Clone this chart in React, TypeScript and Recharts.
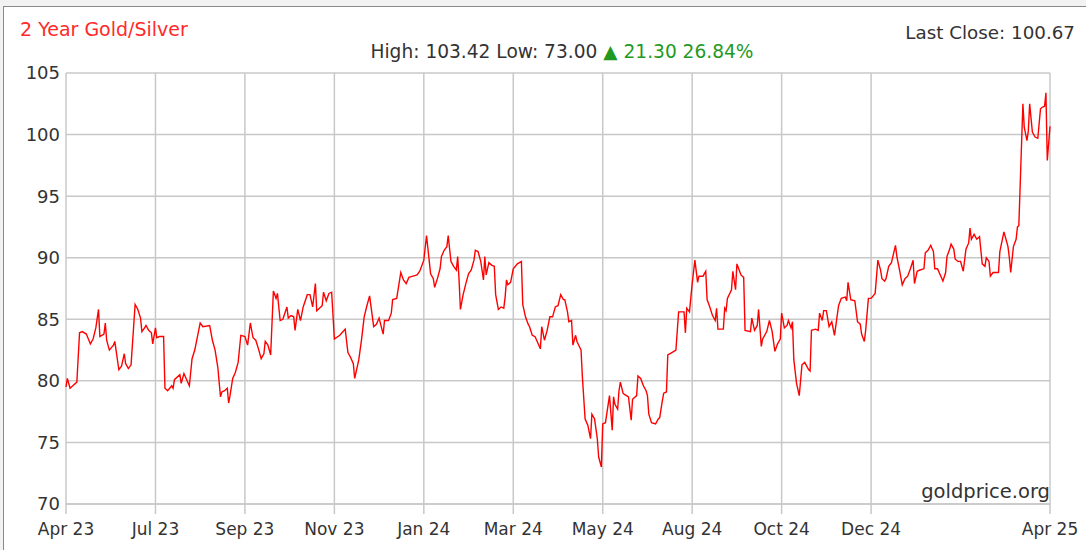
import React from 'react';
import { LineChart, Line, XAxis, YAxis, CartesianGrid } from 'recharts';

const days = [
  0, 1, 3, 5, 8, 10, 12, 15, 18, 20,
  22, 24, 25, 28, 29, 30, 32, 35, 36, 39,
  41, 43, 44, 46, 48, 51, 53, 55, 56, 58,
  59, 61, 63, 64, 66, 67, 69, 72, 73, 75,
  78, 79, 80, 84, 85, 87, 91, 93, 95, 99,
  101, 106, 108, 110, 112, 114, 115, 117, 119, 120,
  121, 123, 125, 127, 129, 132, 134, 136, 138, 140,
  142, 144, 146, 147, 149, 151, 153, 155, 156, 158,
  160, 163, 164, 166, 168, 169, 171, 173, 175, 178,
  180, 182, 184, 185, 187, 189, 190, 192, 194, 196,
  198, 202, 206, 208, 210, 212, 213, 216, 218, 220,
  222, 224, 227, 229, 231, 234, 235, 238, 240, 241,
  244, 247, 249, 251, 253, 256, 259, 261, 264, 266,
  269, 271, 272, 274, 276, 277, 279, 281, 282, 284,
  286, 288, 289, 290, 291, 293, 295, 297, 299, 301,
  302, 304, 306, 308, 309, 310, 312, 314, 316, 317,
  319, 321, 323, 324, 325, 326, 328, 330, 333, 336,
  337, 339, 341, 342, 344, 346, 350, 351, 353, 355,
  357, 359, 361, 363, 365, 367, 368, 370, 371, 373,
  374, 376, 377, 380, 381, 383, 385, 387, 388, 390,
  392, 393, 395, 396, 398, 401, 403, 404, 405, 407,
  408, 409, 411, 412, 415, 417, 418, 421, 422, 424,
  426, 428, 429, 430, 432, 435, 437, 438, 440, 441,
  443, 444, 447, 450, 452, 456, 457, 458, 460, 462,
  464, 466, 467, 470, 472, 473, 475, 477, 479, 480,
  481, 485, 486, 487, 488, 491, 492, 494, 495, 497,
  498, 500, 501, 505, 506, 508, 510, 511, 513, 514,
  517, 519, 521, 523, 525, 527, 528, 530, 532, 533,
  535, 536, 537, 539, 541, 543, 545, 546, 548, 549,
  550, 553, 555, 556, 558, 559, 561, 563, 565, 567,
  570, 572, 575, 576, 577, 579, 582, 584, 586, 587,
  589, 590, 592, 594, 597, 599, 601, 602, 604, 605,
  607, 609, 612, 613, 615, 617, 619, 621, 623, 625,
  626, 628, 630, 633, 634, 636, 638, 640, 641, 643,
  647, 649, 650, 652, 653, 655, 656, 658, 660, 662,
  664, 666, 667, 668, 670, 672, 674, 676, 678, 679,
  681, 682, 684, 688, 689, 692, 693, 695, 696, 697,
  699, 701, 702, 703, 706, 707, 709, 710, 711, 713,
  715, 717, 719, 720, 722, 723, 724, 726,
];

const ratio = [
  79.5, 80.2, 79.4, 79.6, 79.9, 83.9, 84.0, 83.8, 83.0, 83.4,
  84.3, 85.8, 83.6, 83.8, 84.7, 83.3, 82.5, 82.9, 83.2, 80.9,
  81.2, 82.2, 81.4, 81.0, 81.3, 86.2, 85.8, 85.1, 84.0, 84.3,
  84.5, 84.1, 83.9, 83.0, 84.3, 83.5, 83.6, 83.6, 79.4, 79.2,
  79.6, 79.4, 80.1, 80.5, 79.8, 80.6, 79.6, 81.8, 82.5, 84.7,
  84.4, 84.5, 83.3, 82.5, 81.1, 78.7, 79.1, 79.2, 79.4, 78.2,
  78.8, 80.2, 80.7, 81.5, 83.7, 83.6, 82.9, 84.7, 83.5, 83.3,
  82.6, 81.8, 82.2, 83.2, 82.9, 82.1, 87.3, 86.7, 87.1, 84.9,
  85.0, 86.0, 85.1, 85.3, 85.2, 84.1, 85.8, 84.9, 86.0, 87.0,
  87.0, 86.0, 87.9, 85.7, 85.9, 86.1, 87.2, 86.5, 87.1, 87.2,
  83.4, 83.7, 84.2, 82.3, 81.9, 81.4, 80.2, 81.7, 83.3, 85.2,
  86.1, 86.9, 84.4, 84.6, 85.1, 83.8, 84.9, 84.9, 85.5, 86.6,
  86.7, 88.8, 88.2, 87.9, 88.4, 88.5, 88.6, 88.9, 89.8, 91.8,
  88.7, 88.3, 87.6, 88.3, 89.1, 90.1, 90.6, 90.9, 91.8, 89.7,
  89.3, 89.0, 90.1, 88.2, 85.8, 87.0, 87.9, 88.7, 89.0, 89.8,
  90.6, 90.5, 89.7, 88.2, 90.1, 88.6, 89.6, 89.4, 89.3, 87.0,
  85.8, 86.0, 85.9, 86.8, 88.2, 87.8, 88.0, 89.1, 89.5, 89.7,
  86.2, 85.2, 84.6, 84.4, 83.7, 83.6, 82.6, 84.4, 83.3, 84.1,
  85.2, 85.2, 86.0, 86.1, 87.0, 86.6, 86.6, 85.6, 84.8, 84.9,
  82.9, 83.7, 83.2, 82.5, 80.3, 76.9, 76.4, 75.3, 77.3, 76.9,
  75.3, 73.8, 73.0, 76.5, 76.6, 78.8, 76.0, 78.7, 78.1, 77.7,
  79.2, 79.9, 79.0, 78.9, 78.7, 76.8, 78.5, 78.8, 80.4, 80.2,
  79.6, 79.2, 78.8, 77.3, 76.6, 76.5, 76.9, 77.0, 78.4, 79.0,
  79.1, 82.1, 82.3, 82.5, 85.6, 85.6, 83.9, 85.9, 85.6, 87.9,
  89.8, 88.0, 88.5, 88.5, 88.9, 86.6, 86.0, 85.3, 84.9, 85.9,
  84.2, 84.2, 85.9, 85.7, 86.7, 87.4, 88.9, 87.4, 89.5, 88.9,
  88.6, 88.4, 84.1, 84.0, 85.1, 84.1, 84.5, 85.8, 82.8, 83.4,
  84.0, 84.9, 84.0, 82.4, 83.0, 83.4, 85.5, 84.3, 84.5, 84.9,
  84.3, 84.8, 81.7, 79.8, 78.8, 81.3, 81.5, 81.3, 80.9, 80.8,
  84.1, 84.2, 84.1, 85.5, 84.9, 85.7, 85.7, 84.4, 84.8, 83.7,
  86.1, 86.7, 86.8, 86.5, 88.0, 86.6, 86.5, 84.8, 84.6, 83.8,
  83.2, 84.1, 86.7, 86.7, 87.1, 89.8, 89.0, 88.3, 88.1, 88.3,
  89.3, 89.6, 91.0, 90.1, 89.0, 87.8, 88.3, 88.5, 89.1, 89.8,
  87.9, 88.9, 89.0, 89.1, 90.4, 90.6, 91.0, 90.5, 89.1, 89.1,
  88.1, 88.8, 90.1, 90.7, 91.1, 90.7, 89.9, 89.7, 89.7, 88.9,
  90.7, 91.2, 92.4, 91.5, 91.9, 91.5, 91.7, 89.5, 89.3, 90.0,
  89.7, 88.5, 88.8, 88.8, 90.5, 92.1, 91.7, 90.9, 90.0, 88.8,
  90.9, 91.5, 92.5, 92.6, 102.5, 100.6, 99.5, 100.3, 102.5, 100.2,
  99.8, 99.7, 102.1, 102.2, 102.3, 103.4, 97.9, 100.67,
];

const xTicks = [0, 66, 132, 198, 264, 330, 396, 462, 528, 594, 726];
const xLabels = ['Apr 23', 'Jul 23', 'Sep 23', 'Nov 23', 'Jan 24', 'Mar 24', 'May 24', 'Aug 24', 'Oct 24', 'Dec 24', 'Apr 25'];
const yTicks = [70, 75, 80, 85, 90, 95, 100, 105];

const titleText = '2 Year Gold/Silver';
const statsText = 'High: 103.42 Low: 73.00 ';
const changeText = '\u25B2 21.30 26.84%';
const lastCloseText = 'Last Close: 100.67';
const sourceText = 'goldprice.org';

const data = days.map((d, i) => ({ day: d, ratio: ratio[i] }));

const FONT = '"DejaVu Sans", Verdana, sans-serif';
const GRID = '#c8c8c8';

export default function App() {
  return (
    <div style={{ position: 'absolute', left: 0, top: 0, width: 1086, height: 550, background: '#f2f2f2', overflow: 'hidden', fontFamily: FONT }}>
      <div style={{ position: 'absolute', left: 3, top: 6, width: 1100, height: 560, background: '#fff', border: '1px solid #8a8a8a', boxSizing: 'border-box' }} />
      <div style={{ position: 'absolute', left: 0, top: 0 }}>
        <LineChart width={1086} height={550} data={data} margin={{ top: 73, right: 36, bottom: 0, left: 6 }}>
          <CartesianGrid stroke={GRID} strokeWidth={1.5} horizontal vertical />
          <XAxis
            dataKey="day"
            type="number"
            domain={[0, 726]}
            ticks={xTicks}
            interval={0}
            tickFormatter={(v: number) => xLabels[xTicks.indexOf(v)]}
            height={46}
            tickSize={10}
            tickMargin={9}
            axisLine={{ stroke: GRID, strokeWidth: 1.5 }}
            tickLine={{ stroke: GRID, strokeWidth: 1.5 }}
            tick={{ fill: '#333', fontSize: 17, fontFamily: FONT }}
          />
          <YAxis
            type="number"
            domain={[70, 105]}
            ticks={yTicks}
            interval={0}
            width={60}
            tickSize={0}
            tickMargin={6}
            axisLine={false}
            tickLine={false}
            tick={{ fill: '#333', fontSize: 18, fontFamily: FONT }}
          />
          <Line dataKey="ratio" type="linear" stroke="#ff0000" strokeWidth={1.4} dot={false} isAnimationActive={false} />
        </LineChart>
      </div>
      <svg width={1086} height={550} style={{ position: 'absolute', left: 0, top: 0, pointerEvents: 'none' }}>
        <text x={20} y={36} fill="#ff2a2a" fontSize={19} fontFamily={FONT}>{titleText}</text>
        <text x={562} y={58} textAnchor="middle" fontSize={18.6} fontFamily={FONT}>
          <tspan fill="#333">{statsText}</tspan>
          <tspan fill="#1f9a1f">{changeText}</tspan>
        </text>
        <text x={1075} y={39} textAnchor="end" fill="#333" fontSize={18.3} fontFamily={FONT}>{lastCloseText}</text>
        <text x={1050} y={498} textAnchor="end" fill="#333" fontSize={19.5} fontFamily={FONT}>{sourceText}</text>
      </svg>
    </div>
  );
}
